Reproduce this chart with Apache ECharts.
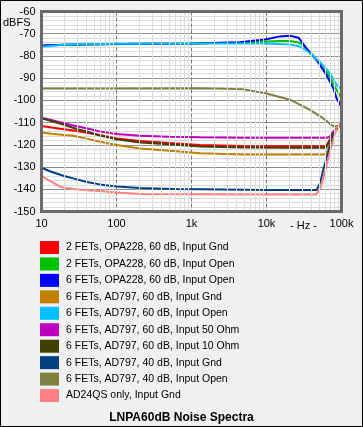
<!DOCTYPE html>
<html><head><meta charset="utf-8">
<script src="https://cdn.jsdelivr.net/npm/echarts@6/dist/echarts.min.js"></script>
<style>
html,body{margin:0;padding:0;background:#f0f0f0;}
#c{width:363px;height:427px;background:#f0f0f0;}
</style></head><body>
<div id="c"></div>
<script>
// ---- data ----
var seriesNames = [
  '2 FETs, OPA228, 60 dB, Input Gnd',
  '2 FETs, OPA228, 60 dB, Input Open',
  '6 FETs, OPA228, 60 dB, Input Open',
  '6 FETs, AD797, 60 dB, Input Gnd',
  '6 FETs, AD797, 60 dB, Input Open',
  '6 FETs, AD797, 60 dB, Input 50 Ohm',
  '6 FETs, AD797, 60 dB, Input 10 Ohm',
  '6 FETs, AD797, 40 dB, Input Gnd',
  '6 FETs, AD797, 40 dB, Input Open',
  'AD24QS only, Input Gnd'
];
var seriesColors = ['#ff0000','#00c000','#0000ff','#c08000','#00c0ff','#c000c0','#404000','#004080','#808040','#ff8080'];

var fRed  = [10, 17.7, 26.5, 40, 60, 100, 206, 570, 1300, 5000, 20000, 62000, 66000, 78000, 90000, 100000];
var dbRed = [-111.5, -112.8, -113.6, -114.6, -115.6, -117.1, -118.3, -119.3, -120.1, -120.5, -120.6, -120.6, -119.2, -114.8, -112, -110];

var fGreen  = [10, 12, 20, 50, 200, 1000, 5000, 10000, 15000, 20600, 26800, 30800, 38000, 51000, 70000, 86000, 100000];
var dbGreen = [-75.5, -75.3, -75, -74.8, -74.5, -74.4, -74.0, -73.5, -73.3, -73.3, -73.9, -75.2, -78.1, -83.3, -89.3, -95.3, -99];

var fBlue  = [10, 20, 100, 1000, 4400, 10000, 15000, 20600, 26800, 30000, 34000, 40000, 46600, 63000, 78000, 86000, 100000];
var dbBlue = [-75.3, -75, -74.6, -74.4, -73.8, -72.5, -71.2, -70.9, -71.8, -74, -76.6, -79.5, -81.8, -88.6, -94.6, -99, -103];

var fOrange  = [10, 13.5, 20, 26.5, 40, 60, 100, 206, 570, 1300, 5000, 20000, 62000, 66000, 78000, 90000, 100000];
var dbOrange = [-114.5, -115, -115.6, -115.9, -117.2, -118.6, -120.1, -121.6, -122.8, -123.8, -124.3, -124.4, -124.4, -122, -114.8, -112, -110];

var fCyan  = [10, 12, 20, 30, 100, 1000, 10000, 20600, 26800, 32000, 38000, 51000, 70000, 86000, 100000];
var dbCyan = [-75.8, -75.6, -75, -74.7, -74.5, -74.4, -74.4, -74.8, -75.6, -76.9, -78.8, -82.6, -87.8, -93.1, -95];

var fMagenta  = [10, 13.5, 20, 26.5, 44, 60, 100, 206, 500, 1300, 5000, 20000, 65000, 70000, 78000, 90000, 100000];
var dbMagenta = [-107.8, -108.8, -110.3, -111.3, -112.9, -114, -115.1, -115.9, -116.4, -116.6, -116.8, -116.8, -116.8, -116.2, -114, -112, -110];

var fDark  = [10, 13.5, 20, 29.5, 40, 60, 100, 206, 570, 1300, 5000, 20000, 62000, 66000, 78000, 90000, 100000];
var dbDark = [-108.1, -109.3, -111, -112.9, -114, -115.8, -117.5, -118.9, -119.8, -120.8, -121.2, -121.3, -121.3, -119.5, -114.8, -112, -110];

var fNavy  = [10, 13.5, 20, 26.5, 40, 60, 100, 206, 570, 1300, 10000, 46600, 52000, 57000, 70000, 86000, 100000];
var dbNavy = [-130.3, -132.1, -134, -135.1, -136.7, -137.8, -138.8, -139.4, -139.9, -140.0, -140.3, -140.3, -137, -131.3, -120.8, -112.4, -110];

var fOlive  = [10, 100, 1000, 2000, 4900, 10000, 20600, 38000, 57000, 73000, 81000, 90000, 100000];
var dbOlive = [-94.6, -94.6, -94.5, -94.6, -95.0, -96.9, -99.7, -104.3, -108.1, -111.0, -111.8, -111.3, -110.3];

var fPink  = [10, 13.5, 17.6, 20, 26.5, 40, 60, 100, 206, 1300, 10000, 46000, 52000, 57000, 70000, 86000, 100000];
var dbPink = [-134, -136.6, -138.8, -139.3, -139.9, -140.4, -140.8, -141.5, -142.1, -142.2, -142.4, -142.4, -139.5, -135.1, -123.1, -112.4, -110];

var xTickLabels = {1: '10', 2: '100', 3: '1k', 4: '10k', 5: '100k'};
var minorFreqs = [];
[10, 100, 1000, 10000].forEach(function (d) { for (var k = 2; k <= 9; k++) minorFreqs.push(d * k); });

var allF  = [fRed, fGreen, fBlue, fOrange, fCyan, fMagenta, fDark, fNavy, fOlive, fPink];
var allDb = [dbRed, dbGreen, dbBlue, dbOrange, dbCyan, dbMagenta, dbDark, dbNavy, dbOlive, dbPink];

// ---- chart ----
var FONT = 'Liberation Sans';
var chart = echarts.init(document.getElementById('c'), null, {renderer: 'canvas'});
var GL = 41.5, GT = 11.5, GW = 300, GH = 200;

var series = [{
  type: 'line', name: '_minor', data: [], silent: true, z: 1,
  markLine: {
    silent: true, symbol: ['none', 'none'], label: {show: false}, animation: false,
    lineStyle: {color: '#dcdcdc', type: 'solid', width: 1},
    emphasis: {disabled: true},
    data: minorFreqs.map(function (f) { return {xAxis: f}; })
  }
}];
seriesNames.forEach(function (name, i) {
  series.push({
    type: 'line', name: name, symbol: 'none', showSymbol: false, z: 3,
    lineStyle: {color: seriesColors[i], width: 2},
    itemStyle: {color: seriesColors[i]},
    emphasis: {disabled: true},
    data: allF[i].map(function (f, j) { return [f, allDb[i][j]]; })
  });
});

chart.setOption({
  animation: false,
  backgroundColor: '#f0f0f0',
  grid: {left: GL, top: GT, width: GW, height: GH, show: true, backgroundColor: '#ffffff', borderWidth: 0},
  xAxis: {
    type: 'log', logBase: 10, min: 10, max: 100000,
    axisLine: {show: false}, axisTick: {show: false},
    axisLabel: {
      color: '#000', fontFamily: FONT, fontSize: 11, margin: 7,
      showMinLabel: true, showMaxLabel: true,
      formatter: function (v) { return xTickLabels[Math.round(Math.log10(v))] || ''; }
    },
    splitLine: {show: true, lineStyle: {color: '#7a7a7a', type: [4, 2], width: 1}}
  },
  yAxis: {
    type: 'value', min: -150, max: -60, interval: 10,
    axisLine: {show: false}, axisTick: {show: false},
    axisLabel: {color: '#000', fontFamily: FONT, fontSize: 11, margin: 6},
    splitLine: {show: true, lineStyle: {color: '#8c8c8c', width: 1}},
    minorTick: {show: false, splitNumber: 5},
    minorSplitLine: {show: true, lineStyle: {color: '#dcdcdc', width: 1}}
  },
  legend: {
    data: seriesNames, orient: 'vertical', left: 40, top: 241, padding: 0,
    icon: 'rect', itemWidth: 19, itemHeight: 13, itemGap: 3.45,
    selectedMode: false,
    textStyle: {color: '#000', fontFamily: FONT, fontSize: 10.5, padding: [0, 0, 0, 2]}
  },
  graphic: [
    {type: 'rect', z: 100, silent: true,
     shape: {x: 0.5, y: 0.5, width: 362, height: 426},
     style: {fill: null, stroke: '#000', lineWidth: 1}},
    {type: 'rect', z: 100, silent: true,
     shape: {x: GL, y: GT, width: GW, height: GH},
     style: {fill: null, stroke: '#6a6a6a', lineWidth: 3}},
    {type: 'text', left: 3, top: 17, silent: true,
     style: {text: 'dBFS', fill: '#000', font: '11px "Liberation Sans"'}},
    {type: 'text', left: 290, top: 220, silent: true,
     style: {text: '- Hz -', fill: '#000', font: '11px "Liberation Sans"'}},
    {type: 'text', left: 'center', top: 412, silent: true,
     style: {text: 'LNPA60dB Noise Spectra', fill: '#000', font: 'bold 12px "Liberation Sans"'}}
  ],
  series: series
});
</script>
</body></html>
